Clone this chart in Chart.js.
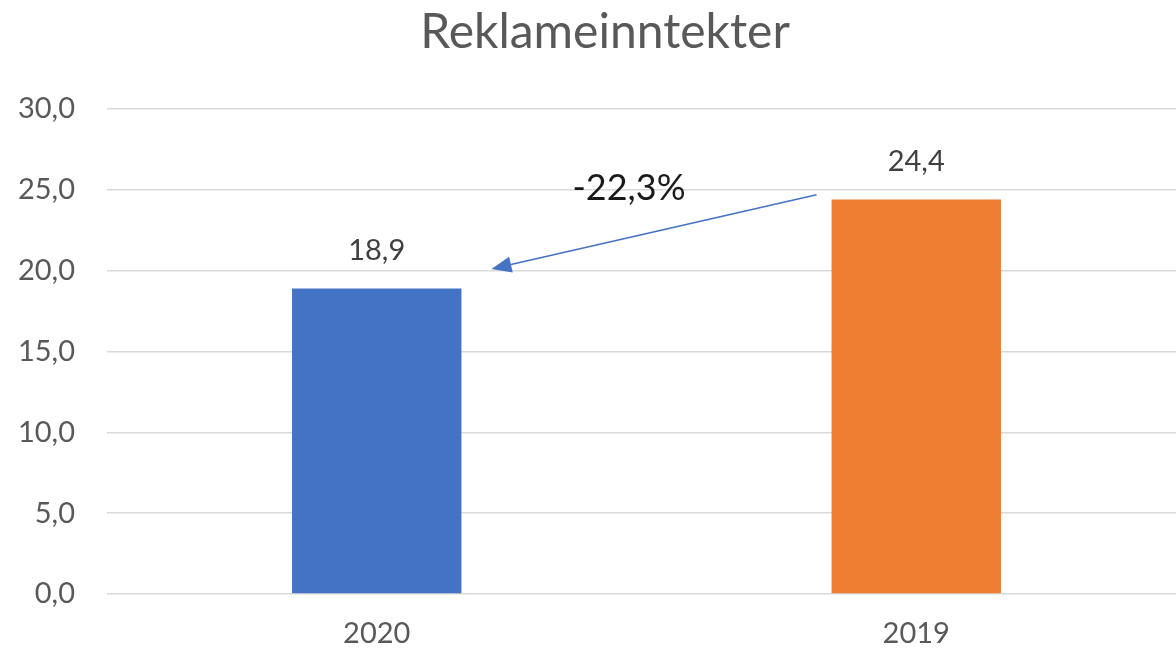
<!DOCTYPE html>
<html>
<head>
<meta charset="utf-8">
<script src="https://cdn.jsdelivr.net/npm/chart.js@4"></script>
<style>
	html, body { margin: 0; padding: 0; background: #fff; overflow: hidden; }
	#wrap { width: 1176px; height: 649px; overflow: hidden; }
</style>
</head>
<body>
<div id="wrap"><canvas id="chart" width="1186" height="649"></canvas></div>
<script>
const categories = ['2020', '2019'];
const values = [18.9, 24.4];
const barColors = ['#4472C4', '#ED7D31'];
const yTicks = [0, 5, 10, 15, 20, 25, 30];
const title = 'Reklameinntekter';
const changeLabel = '-22,3%';
// arrow ends, in data values (y axis)
const arrowFrom = 24.7;
const arrowTo = 20.1;

const font = 'Lato, "Open Sans", sans-serif';

function fmt(v) {
	return v.toFixed(1).replace('.', ',');
}

const labelsPlugin = {
	id: 'labelsAndArrow',
	afterDatasetsDraw(chart) {
		let ctx = chart.ctx;
		let meta = chart.getDatasetMeta(0);
		let y = chart.scales.y;
		ctx.save();

		// title, centred a little right of the canvas middle like the original frame
		ctx.font = '48px ' + font;
		ctx.fillStyle = '#595959';
		ctx.textAlign = 'center';
		ctx.textBaseline = 'alphabetic';
		ctx.fillText(title, chart.width / 2 + 12, 48);

		ctx.font = '29px ' + font;
		ctx.fillStyle = '#404040';
		ctx.textBaseline = 'middle';
		meta.data.forEach((bar, i) => {
			ctx.fillText(fmt(values[i]), bar.x, bar.y - 38);
		});

		// arrow from the 2019 bar to the 2020 bar
		let b0 = meta.data[0], b1 = meta.data[1];
		let x1 = b1.x - b1.width / 2 - 15, y1 = y.getPixelForValue(arrowFrom);
		let x2 = b0.x + b0.width / 2 + 30, y2 = y.getPixelForValue(arrowTo);
		let ang = Math.atan2(y2 - y1, x2 - x1);
		let headLen = 20, headW = 8;
		let bx = x2 - headLen * Math.cos(ang), by = y2 - headLen * Math.sin(ang);
		ctx.strokeStyle = '#4472C4';
		ctx.lineWidth = 1.5;
		ctx.beginPath();
		ctx.moveTo(x1, y1);
		ctx.lineTo(bx, by);
		ctx.stroke();
		ctx.fillStyle = '#4472C4';
		ctx.beginPath();
		ctx.moveTo(x2, y2);
		ctx.lineTo(bx + headW * Math.sin(ang), by - headW * Math.cos(ang));
		ctx.lineTo(bx - headW * Math.sin(ang), by + headW * Math.cos(ang));
		ctx.closePath();
		ctx.fill();

		ctx.font = '36px ' + font;
		ctx.fillStyle = '#1a1a1a';
		ctx.textBaseline = 'middle';
		ctx.fillText(changeLabel, (x1 + x2) / 2 - 25, y.getPixelForValue(25.1));
		ctx.restore();
	}
};

new Chart(document.getElementById('chart'), {
	type: 'bar',
	data: {
		labels: categories,
		datasets: [{
			data: values,
			backgroundColor: barColors,
			categoryPercentage: 1,
			barPercentage: 0.314
		}]
	},
	options: {
		responsive: false,
		animation: false,
		layout: { padding: { top: 109, right: 0, bottom: 0, left: 0 } },
		plugins: {
			legend: { display: false },
			tooltip: { enabled: false },
			title: { display: false }
		},
		scales: {
			x: {
				offset: true,
				grid: { display: false },
				border: { display: false },
				ticks: {
					color: '#595959',
					font: { family: font, size: 29 },
					padding: 14
				},
				afterFit(scale) { scale.height = 55; }
			},
			y: {
				min: 0,
				max: 30,
				afterBuildTicks(scale) {
					scale.ticks = yTicks.map(v => ({ value: v }));
				},
				grid: { color: '#D9D9D9', lineWidth: 1.5, drawTicks: false },
				border: { display: false },
				ticks: {
					color: '#595959',
					font: { family: font, size: 29 },
					padding: 32,
					callback: v => fmt(v)
				},
				afterFit(scale) { scale.width = 107; }
			}
		}
	},
	plugins: [labelsPlugin]
});
</script>
</body>
</html>
